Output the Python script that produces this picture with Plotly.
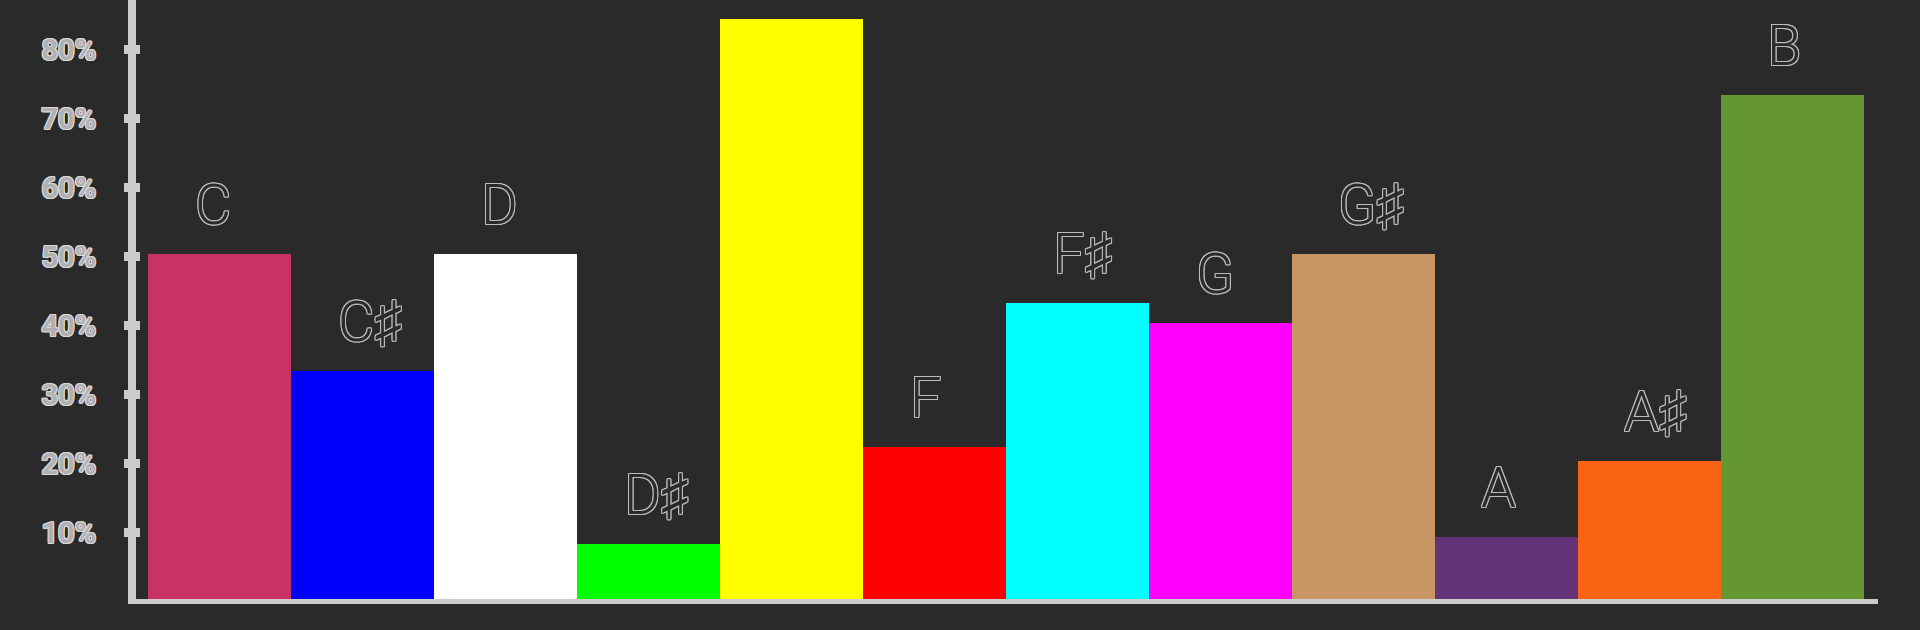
import plotly.graph_objects as go

# ---- data ----
notes = ["C", "C♯", "D", "D♯", "E", "F", "F♯", "G", "G♯", "A", "A♯", "B"]
values = [0.505, 0.335, 0.505, 0.084, 0.845, 0.225, 0.434, 0.404, 0.505, 0.094, 0.204, 0.735]
bar_colors = ["#C83264", "#0000FF", "#FFFFFF", "#00FF00", "#FFFF00", "#FF0000",
              "#00FFFF", "#FF00FF", "#C89664", "#643278", "#FA6414", "#649632"]
tick_vals = [0.1, 0.2, 0.3, 0.4, 0.5, 0.6, 0.7, 0.8]
tick_text = ["10%", "20%", "30%", "40%", "50%", "60%", "70%", "80%"]

BG = "#2a2a2a"
LINE = "#cccccc"
Y_RANGE = [0.0043, 0.8724]


def outline(color, w=1):
    dirs = [(-w, 0), (w, 0), (0, -w), (0, w), (-w, -w), (w, w), (-w, w), (w, -w)]
    return ", ".join(f"{dx}px {dy}px 0 {color}" for dx, dy in dirs)


fig = go.Figure()
fig.add_trace(go.Bar(
    x=notes, y=values,
    marker=dict(color=bar_colors, line=dict(width=0)),
    hoverinfo="skip",
    showlegend=False,
))
# empty trace so the overlay axis (inner half of the tick bumps) is drawn
fig.add_trace(go.Scatter(x=[], y=[], yaxis="y2", showlegend=False, hoverinfo="skip"))

for n, v in zip(notes, values):
    fig.add_annotation(
        x=n, y=v, xref="x", yref="y",
        text=n, showarrow=False,
        xanchor="left", yanchor="bottom",
        xshift=-27, yshift=14,
        font=dict(family="Roboto", size=56, weight=300, color=BG,
                  shadow=outline("#bcbcbc")),
    )

fig.update_layout(
    width=1920, height=630,
    margin=dict(l=136, r=42, t=0, b=31, pad=0),
    paper_bgcolor=BG, plot_bgcolor=BG,
    bargap=0,
    showlegend=False,
    xaxis=dict(
        type="category",
        range=[-0.584, 11.598],
        showgrid=False, zeroline=False,
        showticklabels=False, ticks="",
        showline=True, linecolor=LINE, linewidth=5,
        fixedrange=True,
    ),
    yaxis=dict(
        range=Y_RANGE,
        showgrid=False, zeroline=False,
        tickvals=tick_vals, ticktext=tick_text,
        ticks="outside", ticklen=4, tickwidth=9, tickcolor=LINE,
        ticklabelstandoff=22,
        tickfont=dict(family="Roboto", size=29, weight="bold", color="#b0b0b0",
                      shadow=outline("#d8d8d8")),
        showline=True, linecolor=LINE, linewidth=8,
        fixedrange=True,
    ),
    yaxis2=dict(
        overlaying="y", side="left", anchor="x",
        range=Y_RANGE,
        showgrid=False, zeroline=False, showline=False,
        tickvals=tick_vals, showticklabels=False,
        ticks="inside", ticklen=4, tickwidth=9, tickcolor=LINE,
        fixedrange=True,
    ),
)

fig.write_html(
    "out.html",
    config={"displayModeBar": False},
    post_script="document.body.style.margin='0';document.body.style.background='#2a2a2a';",
)
